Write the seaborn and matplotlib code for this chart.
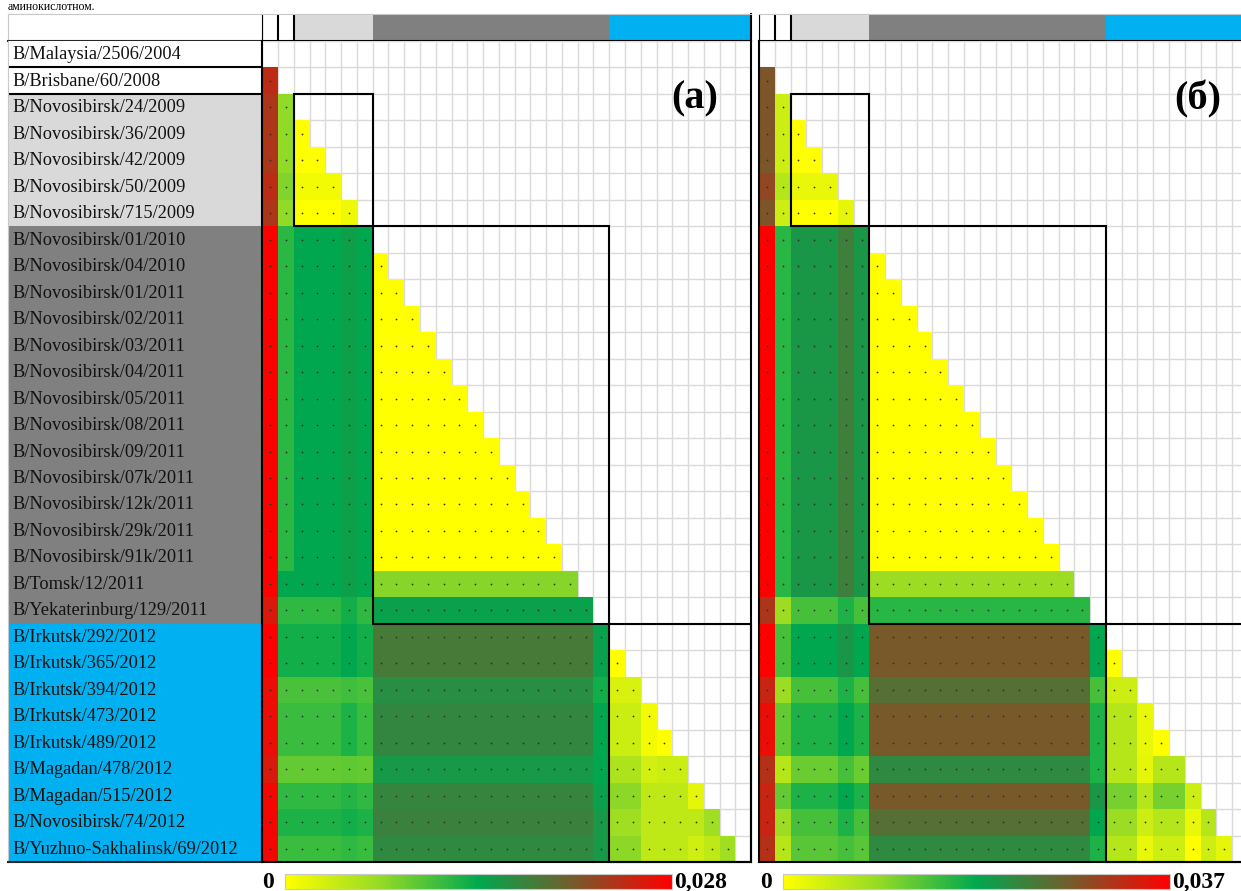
import numpy as np
import matplotlib
matplotlib.use('Agg')
import matplotlib.pyplot as plt
import seaborn as sns
from matplotlib.colors import LinearSegmentedColormap, Normalize
from matplotlib.cm import ScalarMappable
from matplotlib.patches import Rectangle

sns.set_style('white')
plt.rcParams['font.family'] = ['Liberation Serif', 'DejaVu Sans']
plt.rcParams['text.color'] = 'black'

# Strains, in matrix order
strains = ['B/Malaysia/2506/2004', 'B/Brisbane/60/2008',
           'B/Novosibirsk/24/2009', 'B/Novosibirsk/36/2009', 'B/Novosibirsk/42/2009',
           'B/Novosibirsk/50/2009', 'B/Novosibirsk/715/2009',
           'B/Novosibirsk/01/2010', 'B/Novosibirsk/04/2010', 'B/Novosibirsk/01/2011',
           'B/Novosibirsk/02/2011', 'B/Novosibirsk/03/2011', 'B/Novosibirsk/04/2011',
           'B/Novosibirsk/05/2011', 'B/Novosibirsk/08/2011', 'B/Novosibirsk/09/2011',
           'B/Novosibirsk/07k/2011', 'B/Novosibirsk/12k/2011', 'B/Novosibirsk/29k/2011',
           'B/Novosibirsk/91k/2011', 'B/Tomsk/12/2011', 'B/Yekaterinburg/129/2011',
           'B/Irkutsk/292/2012', 'B/Irkutsk/365/2012', 'B/Irkutsk/394/2012',
           'B/Irkutsk/473/2012', 'B/Irkutsk/489/2012', 'B/Magadan/478/2012',
           'B/Magadan/515/2012', 'B/Novosibirsk/74/2012', 'B/Yuzhno-Sakhalinsk/69/2012']
group_sizes = [1, 1, 5, 15, 9]
group_colors = ['white', 'white', '#d9d9d9', '#808080', '#00b0f0']
boxed_groups = [2, 3, 4]

# pairwise distances (x 1e-3), row i = distances to strains 0..i-1
dist_a = [
    [],
    [24.6],
    [23.8, 7.0],
    [23.8, 7.0, 0.0],
    [23.8, 7.0, 0.0, 0.0],
    [24.6, 7.8, 0.8, 0.8, 0.8],
    [23.8, 7.0, 0.0, 0.0, 0.0, 1.1],
    [28.0, 12.0, 14.0, 14.0, 14.0, 14.8, 14.0],
    [28.0, 12.0, 14.0, 14.0, 14.0, 14.8, 14.0, 0.0],
    [28.0, 12.0, 14.0, 14.0, 14.0, 14.8, 14.0, 0.0, 0.0],
    [28.0, 12.0, 14.0, 14.0, 14.0, 14.8, 14.0, 0.0, 0.0, 0.0],
    [28.0, 12.0, 14.0, 14.0, 14.0, 14.8, 14.0, 0.0, 0.0, 0.0, 0.0],
    [28.0, 12.0, 14.0, 14.0, 14.0, 14.8, 14.0, 0.0, 0.0, 0.0, 0.0, 0.0],
    [28.0, 12.0, 14.0, 14.0, 14.0, 14.8, 14.0, 0.0, 0.0, 0.0, 0.0, 0.0, 0.0],
    [28.0, 12.0, 14.0, 14.0, 14.0, 14.8, 14.0, 0.0, 0.0, 0.0, 0.0, 0.0, 0.0, 0.0],
    [28.0, 12.0, 14.0, 14.0, 14.0, 14.8, 14.0, 0.0, 0.0, 0.0, 0.0, 0.0, 0.0, 0.0, 0.0],
    [28.0, 12.0, 14.0, 14.0, 14.0, 14.8, 14.0, 0.0, 0.0, 0.0, 0.0, 0.0, 0.0, 0.0, 0.0, 0.0],
    [28.0, 12.0, 14.0, 14.0, 14.0, 14.8, 14.0, 0.0, 0.0, 0.0, 0.0, 0.0, 0.0, 0.0, 0.0, 0.0, 0.0],
    [28.0, 12.0, 14.0, 14.0, 14.0, 14.8, 14.0, 0.0, 0.0, 0.0, 0.0, 0.0, 0.0, 0.0, 0.0, 0.0, 0.0, 0.0],
    [28.0, 12.0, 14.0, 14.0, 14.0, 14.8, 14.0, 0.0, 0.0, 0.0, 0.0, 0.0, 0.0, 0.0, 0.0, 0.0, 0.0, 0.0, 0.0],
    [28.0, 14.0, 14.0, 14.0, 14.0, 14.8, 14.0, 7.6, 7.6, 7.6, 7.6, 7.6, 7.6, 7.6, 7.6, 7.6, 7.6, 7.6, 7.6, 7.6],
    [26.0, 11.8, 11.8, 11.8, 11.8, 13.2, 11.8, 14.6, 14.6, 14.6, 14.6, 14.6, 14.6, 14.6, 14.6, 14.6, 14.6, 14.6,
     14.6, 14.6, 14.6],
    [28.0, 13.2, 13.2, 13.2, 13.2, 14.0, 13.2, 18.2, 18.2, 18.2, 18.2, 18.2, 18.2, 18.2, 18.2, 18.2, 18.2, 18.2,
     18.2, 18.2, 18.2, 14.6],
    [28.0, 13.2, 13.2, 13.2, 13.2, 14.0, 13.2, 18.2, 18.2, 18.2, 18.2, 18.2, 18.2, 18.2, 18.2, 18.2, 18.2, 18.2,
     18.2, 18.2, 18.2, 14.6, 0.0],
    [27.0, 10.4, 10.4, 10.4, 10.4, 10.9, 10.4, 16.3, 16.3, 16.3, 16.3, 16.3, 16.3, 16.3, 16.3, 16.3, 16.3, 16.3,
     16.3, 16.3, 16.3, 13.2, 2.5, 2.5],
    [27.0, 11.2, 11.2, 11.2, 11.2, 12.6, 11.2, 17.0, 17.0, 17.0, 17.0, 17.0, 17.0, 17.0, 17.0, 17.0, 17.0, 17.0,
     17.0, 17.0, 17.0, 14.0, 3.4, 3.4, 0.8],
    [27.0, 11.2, 11.2, 11.2, 11.2, 12.6, 11.2, 17.0, 17.0, 17.0, 17.0, 17.0, 17.0, 17.0, 17.0, 17.0, 17.0, 17.0,
     17.0, 17.0, 17.0, 14.0, 3.4, 3.4, 0.8, 0.0],
    [26.0, 9.2, 9.2, 9.2, 9.2, 9.5, 9.2, 15.4, 15.4, 15.4, 15.4, 15.4, 15.4, 15.4, 15.4, 15.4, 15.4, 15.4,
     15.4, 15.4, 15.4, 14.0, 5.3, 5.3, 3.0, 3.4, 3.4],
    [27.4, 11.8, 11.8, 11.8, 11.8, 12.3, 11.8, 17.1, 17.1, 17.1, 17.1, 17.1, 17.1, 17.1, 17.1, 17.1, 17.1, 17.1,
     17.1, 17.1, 17.1, 14.6, 7.3, 7.3, 4.2, 4.2, 4.2, 1.7],
    [27.4, 12.6, 12.6, 12.6, 12.6, 13.2, 12.6, 17.6, 17.6, 17.6, 17.6, 17.6, 17.6, 17.6, 17.6, 17.6, 17.6, 17.6,
     17.6, 17.6, 17.6, 15.4, 6.2, 6.2, 4.2, 4.2, 4.2, 4.2, 6.2],
    [27.4, 11.2, 11.2, 11.2, 11.2, 11.8, 11.2, 16.8, 16.8, 16.8, 16.8, 16.8, 16.8, 16.8, 16.8, 16.8, 16.8, 16.8,
     16.8, 16.8, 16.8, 15.4, 7.3, 7.3, 4.2, 4.2, 4.2, 3.1, 4.2, 6.2],
]

dist_b = [
    [],
    [28.1],
    [28.1, 4.4],
    [28.1, 4.4, 0.0],
    [28.1, 4.4, 0.0, 0.0],
    [29.6, 6.3, 1.9, 1.9, 1.9],
    [28.1, 4.4, 0.0, 0.0, 0.0, 2.2],
    [37.0, 15.9, 20.4, 20.4, 20.4, 23.3, 20.4],
    [37.0, 15.9, 20.4, 20.4, 20.4, 23.3, 20.4, 0.0],
    [37.0, 15.9, 20.4, 20.4, 20.4, 23.3, 20.4, 0.0, 0.0],
    [37.0, 15.9, 20.4, 20.4, 20.4, 23.3, 20.4, 0.0, 0.0, 0.0],
    [37.0, 15.9, 20.4, 20.4, 20.4, 23.3, 20.4, 0.0, 0.0, 0.0, 0.0],
    [37.0, 15.9, 20.4, 20.4, 20.4, 23.3, 20.4, 0.0, 0.0, 0.0, 0.0, 0.0],
    [37.0, 15.9, 20.4, 20.4, 20.4, 23.3, 20.4, 0.0, 0.0, 0.0, 0.0, 0.0, 0.0],
    [37.0, 15.9, 20.4, 20.4, 20.4, 23.3, 20.4, 0.0, 0.0, 0.0, 0.0, 0.0, 0.0, 0.0],
    [37.0, 15.9, 20.4, 20.4, 20.4, 23.3, 20.4, 0.0, 0.0, 0.0, 0.0, 0.0, 0.0, 0.0, 0.0],
    [37.0, 15.9, 20.4, 20.4, 20.4, 23.3, 20.4, 0.0, 0.0, 0.0, 0.0, 0.0, 0.0, 0.0, 0.0, 0.0],
    [37.0, 15.9, 20.4, 20.4, 20.4, 23.3, 20.4, 0.0, 0.0, 0.0, 0.0, 0.0, 0.0, 0.0, 0.0, 0.0, 0.0],
    [37.0, 15.9, 20.4, 20.4, 20.4, 23.3, 20.4, 0.0, 0.0, 0.0, 0.0, 0.0, 0.0, 0.0, 0.0, 0.0, 0.0, 0.0],
    [37.0, 15.9, 20.4, 20.4, 20.4, 23.3, 20.4, 0.0, 0.0, 0.0, 0.0, 0.0, 0.0, 0.0, 0.0, 0.0, 0.0, 0.0, 0.0],
    [37.0, 15.9, 20.4, 20.4, 20.4, 23.3, 20.4, 8.5, 8.5, 8.5, 8.5, 8.5, 8.5, 8.5, 8.5, 8.5, 8.5, 8.5, 8.5, 8.5],
    [31.5, 8.5, 14.1, 14.1, 14.1, 16.7, 14.1, 15.9, 15.9, 15.9, 15.9, 15.9, 15.9, 15.9, 15.9, 15.9, 15.9, 15.9,
     15.9, 15.9, 15.9],
    [37.0, 14.1, 18.5, 18.5, 18.5, 20.4, 18.5, 27.8, 27.8, 27.8, 27.8, 27.8, 27.8, 27.8, 27.8, 27.8, 27.8, 27.8,
     27.8, 27.8, 27.8, 18.5],
    [37.0, 14.1, 18.5, 18.5, 18.5, 20.4, 18.5, 27.8, 27.8, 27.8, 27.8, 27.8, 27.8, 27.8, 27.8, 27.8, 27.8, 27.8,
     27.8, 27.8, 27.8, 18.5, 0.0],
    [33.3, 8.5, 14.1, 14.1, 14.1, 16.7, 14.1, 25.2, 25.2, 25.2, 25.2, 25.2, 25.2, 25.2, 25.2, 25.2, 25.2, 25.2,
     25.2, 25.2, 25.2, 14.1, 4.4, 4.4],
    [35.5, 12.2, 16.7, 16.7, 16.7, 18.5, 16.7, 27.8, 27.8, 27.8, 27.8, 27.8, 27.8, 27.8, 27.8, 27.8, 27.8, 27.8,
     27.8, 27.8, 27.8, 16.7, 6.3, 6.3, 1.9],
    [35.5, 12.2, 16.7, 16.7, 16.7, 18.5, 16.7, 27.8, 27.8, 27.8, 27.8, 27.8, 27.8, 27.8, 27.8, 27.8, 27.8, 27.8,
     27.8, 27.8, 27.8, 16.7, 6.3, 6.3, 1.9, 0.0],
    [31.8, 6.3, 11.8, 11.8, 11.8, 14.1, 11.8, 22.2, 22.2, 22.2, 22.2, 22.2, 22.2, 22.2, 22.2, 22.2, 22.2, 22.2,
     22.2, 22.2, 22.2, 16.7, 6.3, 6.3, 2.2, 6.3, 6.3],
    [33.3, 12.2, 16.7, 16.7, 16.7, 18.5, 16.7, 27.8, 27.8, 27.8, 27.8, 27.8, 27.8, 27.8, 27.8, 27.8, 27.8, 27.8,
     27.8, 27.8, 27.8, 20.4, 11.1, 11.1, 6.3, 11.1, 11.1, 4.4],
    [33.3, 8.5, 14.1, 14.1, 14.1, 16.7, 14.1, 25.2, 25.2, 25.2, 25.2, 25.2, 25.2, 25.2, 25.2, 25.2, 25.2, 25.2,
     25.2, 25.2, 25.2, 18.5, 8.5, 8.5, 4.4, 6.3, 6.3, 1.9, 6.3],
    [31.8, 6.3, 13.0, 13.0, 13.0, 14.1, 13.0, 22.2, 22.2, 22.2, 22.2, 22.2, 22.2, 22.2, 22.2, 22.2, 22.2, 22.2,
     22.2, 22.2, 22.2, 16.7, 6.3, 6.3, 1.9, 4.4, 4.4, 0.0, 4.4, 2.2],
]

scale_max_a = 0.028
scale_max_b = 0.037

cmap = LinearSegmentedColormap.from_list('ygbr', [(0.0, '#ffff00'), (0.25, '#92da26'), (0.5, '#00a84f'),
                                                  (0.75, '#765a2b'), (1.0, '#ff0000')])

W, H = 1241, 891
n = len(strains)
cell_w = 15.77
row_colors = [c for c, k in zip(group_colors, group_sizes) for _ in range(k)]
starts = np.cumsum([0] + group_sizes[:-1])
BLACK_LW = 1.5


def rect(x0, y0, x1, y1):
    return [x0 / W, 1 - y1 / H, (x1 - x0) / W, (y1 - y0) / H]


def to_matrix(rows):
    m = np.full((n, n), np.nan)
    for i, row in enumerate(rows):
        m[i, :len(row)] = row
    return m / 1000


def draw_panel(fig, x0, rows, vmax, letter, letter_x, vmax_text, cbar_x):
    x1 = x0 + n * cell_w

    # group colour strip on top
    hdr = fig.add_axes(rect(x0, 14, x1, 41))
    hdr.bar(np.arange(n), 1, width=1, align='edge', color=row_colors, linewidth=0)
    hdr.set_xlim(0, n)
    hdr.set_ylim(0, 1)
    hdr.set_xticks([])
    hdr.set_yticks([])
    for xv in [0, 1, 2]:
        hdr.axvline(xv, color='black', lw=BLACK_LW)
    for side, col in [('top', '#c8c8c8'), ('bottom', 'black'), ('right', 'black'), ('left', 'black')]:
        hdr.spines[side].set_color(col)
    hdr.spines['top'].set_linewidth(0.8)
    hdr.spines['bottom'].set_linewidth(BLACK_LW)
    hdr.spines['right'].set_linewidth(BLACK_LW)

    ax = fig.add_axes(rect(x0, 41, x1, 862))
    m = to_matrix(rows)
    sns.heatmap(m, mask=np.isnan(m), cmap=cmap, vmin=0, vmax=vmax, cbar=False, ax=ax,
                xticklabels=False, yticklabels=False)
    ax.set_xlim(0, n)
    ax.set_ylim(n, 0)
    ax.set_xticks(np.arange(n + 1))
    ax.set_yticks(np.arange(n + 1))
    ax.tick_params(length=0, labelbottom=False, labelleft=False)
    ax.grid(True, color='#dadada', lw=1.0)
    ax.set_axisbelow(True)

    # marker dots in every filled cell
    rr, cc = np.nonzero(~np.isnan(m))
    ax.scatter(cc + 0.5, rr + 0.5, s=1.6, color='#303030', linewidths=0, zorder=3)

    for g in boxed_groups:
        s, k = starts[g], group_sizes[g]
        ax.add_patch(Rectangle((s, s), k, k, fill=False, ec='black', lw=BLACK_LW, zorder=4, clip_on=False))

    for side in ['left', 'bottom', 'right']:
        ax.spines[side].set_visible(True)
        ax.spines[side].set_color('black')
        ax.spines[side].set_linewidth(BLACK_LW)
    ax.spines['top'].set_visible(False)

    ax.text(letter_x, 2.2, letter, ha='center', va='center', fontsize=29, fontweight='bold', color='black')

    cax = fig.add_axes(rect(cbar_x, 874, cbar_x + 387, 889))
    cb = fig.colorbar(ScalarMappable(norm=Normalize(0, vmax), cmap=cmap), cax=cax, orientation='horizontal')
    cb.set_ticks([])
    cb.outline.set_edgecolor('#c8c8c8')
    cax.text(-0.03, 0.45, '0', transform=cax.transAxes, ha='right', va='center',
             fontsize=17, fontweight='bold')
    cax.text(1.006, 0.45, vmax_text, transform=cax.transAxes, ha='left', va='center',
             fontsize=17, fontweight='bold')
    return ax


fig = plt.figure(figsize=(W / 100, H / 100), dpi=100)

# tail of the document text above the figure
fig.text(8 / W, 1 - 0.5 / H, 'аминокислотном.', fontsize=8.5, va='top')

# strain label column
hl = fig.add_axes(rect(8, 14, 262, 41))
hl.set_xticks([])
hl.set_yticks([])
for side in ['top', 'left']:
    hl.spines[side].set_color('#c8c8c8')
    hl.spines[side].set_linewidth(0.8)
hl.spines['bottom'].set_linewidth(BLACK_LW)
hl.spines['right'].set_visible(False)

lab = fig.add_axes(rect(8, 41, 262, 862))
lab.barh(np.arange(n), 1, height=1, align='edge', color=row_colors, linewidth=0)
lab.set_xlim(0, 1)
lab.set_ylim(n, 0)
lab.set_xticks([])
lab.set_yticks([])
for i, name in enumerate(strains):
    lab.text(0.016, i + 0.52, name, va='center', ha='left', fontsize=13.2, color='#111111')
for yv in [1, 2]:
    lab.axhline(yv, color='black', lw=BLACK_LW)
lab.spines['left'].set_color('#c8c8c8')
lab.spines['left'].set_linewidth(0.8)
lab.spines['top'].set_visible(False)
lab.spines['right'].set_visible(False)
lab.spines['bottom'].set_linewidth(BLACK_LW)

draw_panel(fig, 262.3, dist_a, scale_max_a, '(а)', 27.45, '0,028', 285)
draw_panel(fig, 759, dist_b, scale_max_b, '(б)', 27.8, '0,037', 783)

fig.savefig('out.png', dpi=100)
